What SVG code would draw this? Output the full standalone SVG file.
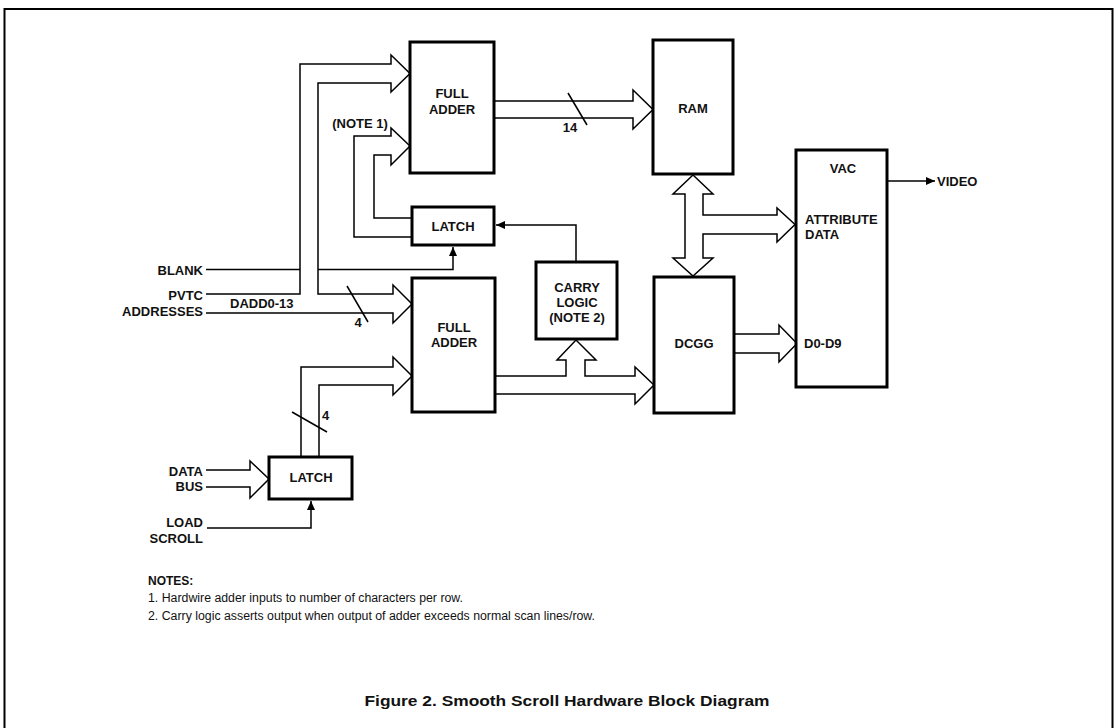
<svg xmlns="http://www.w3.org/2000/svg" width="1115" height="728" viewBox="0 0 1115 728">
<defs>
<marker id="ah" markerUnits="userSpaceOnUse" markerWidth="10" markerHeight="10" refX="9" refY="4" orient="auto">
<path d="M0,0 L9,4 L0,8 Z" fill="#000"/>
</marker>
<style>
.box{fill:#fff;stroke:#000;stroke-width:3}
.bus{fill:#fff;stroke:#000;stroke-width:1.5;stroke-linejoin:miter}
.wire{fill:none;stroke:#000;stroke-width:1.5}
.t{font-family:"Liberation Sans",Arial,Helvetica,sans-serif;font-weight:bold;font-size:13px;fill:#111}
.c{text-anchor:middle}
.r{text-anchor:end}
.n{font-family:"Liberation Sans",Arial,Helvetica,sans-serif;font-size:12px;fill:#111}
</style>
</defs>
<rect x="4.5" y="9" width="1108" height="722" fill="none" stroke="#000" stroke-width="2"/>

<g id="connectors">
<polyline class="wire" points="206,269.5 453,269.5 453,247" marker-end="url(#ah)"/>
<polyline class="wire" points="576,262 576,225 496,225" marker-end="url(#ah)"/>
<polyline class="wire" points="207,528 311,528 311,501" marker-end="url(#ah)"/>
<polyline class="wire" points="887,181 935,181" marker-end="url(#ah)"/>
<path class="bus" d="M206,294 H300 V64 H391 V55 L410,73.5 L391,92 V83 H318 V294 H393 V285 L412,304 L393,323 V313 H206"/>
<path class="bus" d="M412,237 H354 V136 H391 V128 L410,146 L391,165 V155 H374 V218 H412"/>
<path class="bus" d="M301,457 V367 H393 V357 L412,376 L393,395 V385 H319 V457"/>
<path class="bus" d="M206,470 H250 V461 L269,479 L250,498 V487 H206"/>
<path class="bus" d="M494,101 H633 V90 L653,109.5 L633,129 V118 H494"/>
<path class="bus" d="M495,376 H566 V360 H557 L576,340 L596,360 H585 V376 H635 V367 L654,385 L635,404 V394 H495"/>
<path class="bus" d="M693,175 L713,194 H703 V215 H777 V208 L795,224.5 L777,242 V234 H703 V258 H713 L693,276 L673,258 H685 V194 H673 Z"/>
<path class="bus" d="M734,334 H779 V325 L797,343.5 L779,362 V353 H734"/>
<line class="wire" x1="347" y1="286" x2="368" y2="322"/>
<line class="wire" x1="568" y1="93" x2="587" y2="125"/>
<line class="wire" x1="292" y1="412" x2="327" y2="432"/>
</g>

<g id="full-adder-top">
<rect class="box" x="410" y="42" width="84" height="131"/>
<text class="t c" x="452" y="98">FULL</text>
<text class="t c" x="452" y="114">ADDER</text>
</g>
<g id="ram">
<rect class="box" x="653" y="40" width="80" height="134"/>
<text class="t c" x="693" y="113">RAM</text>
</g>
<g id="latch-top">
<rect class="box" x="412" y="207" width="82" height="38"/>
<text class="t c" x="453" y="231">LATCH</text>
</g>
<g id="carry-logic">
<rect class="box" x="536" y="262" width="81" height="77"/>
<text class="t c" x="577" y="292">CARRY</text>
<text class="t c" x="577" y="307">LOGIC</text>
<text class="t c" x="577" y="322">(NOTE 2)</text>
</g>
<g id="full-adder-bottom">
<rect class="box" x="412" y="278" width="83" height="134"/>
<text class="t c" x="454" y="332">FULL</text>
<text class="t c" x="454" y="347">ADDER</text>
</g>
<g id="dcgg">
<rect class="box" x="654" y="277" width="80" height="136"/>
<text class="t c" x="694" y="348">DCGG</text>
</g>
<g id="vac">
<rect class="box" x="796" y="150" width="91" height="237"/>
<text class="t c" x="843" y="173">VAC</text>
<text class="t" x="805" y="224">ATTRIBUTE</text>
<text class="t" x="805" y="239">DATA</text>
<text class="t" x="804" y="348">D0-D9</text>
</g>
<g id="latch-bottom">
<rect class="box" x="269" y="457" width="83" height="42"/>
<text class="t c" x="311" y="482">LATCH</text>
</g>

<g id="labels">
<text class="t c" x="360" y="128">(NOTE 1)</text>
<text class="t c" x="570" y="132">14</text>
<text class="t r" x="203" y="275">BLANK</text>
<text class="t r" x="203" y="300">PVTC</text>
<text class="t r" x="203" y="316">ADDRESSES</text>
<text class="t" x="230" y="308">DADD0-13</text>
<text class="t c" x="358" y="327">4</text>
<text class="t" x="322" y="420">4</text>
<text class="t r" x="203" y="476">DATA</text>
<text class="t r" x="203" y="491">BUS</text>
<text class="t r" x="203" y="527">LOAD</text>
<text class="t r" x="203" y="543">SCROLL</text>
<text class="t" x="937" y="186">VIDEO</text>
</g>

<g id="notes">
<text class="t" x="148" y="585" style="font-size:12px">NOTES:</text>
<text class="n" x="148" y="602" textLength="315" lengthAdjust="spacingAndGlyphs">1.  Hardwire adder inputs to number of characters per row.</text>
<text class="n" x="148" y="620" textLength="447" lengthAdjust="spacingAndGlyphs">2.  Carry logic asserts output when output of adder exceeds normal scan lines/row.</text>
</g>
<text class="t c" x="567" y="706" style="font-size:14.5px" textLength="405" lengthAdjust="spacingAndGlyphs">Figure 2. Smooth Scroll Hardware Block Diagram</text>
</svg>
